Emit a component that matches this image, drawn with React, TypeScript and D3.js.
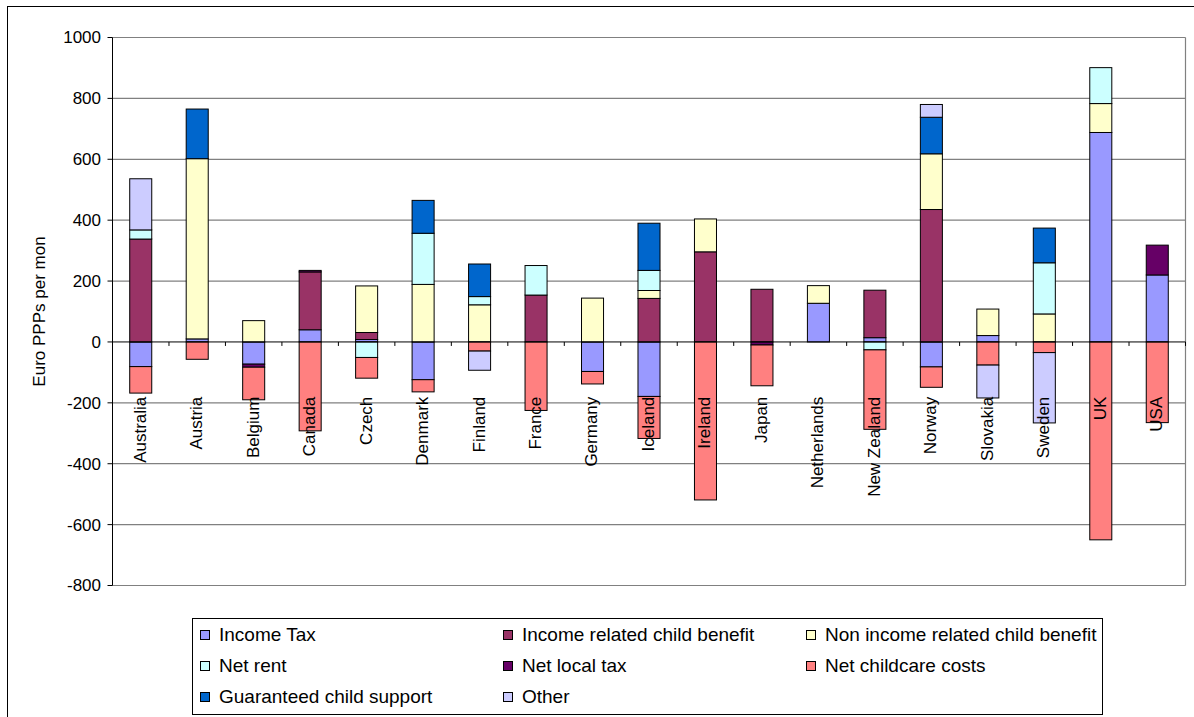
import React from 'react';
import * as d3 from 'd3';

const countries = ["Australia","Austria","Belgium","Canada","Czech","Denmark","Finland","France","Germany","Iceland","Ireland","Japan","Netherlands","New Zealand","Norway","Slovakia","Sweden","UK","USA"];
const seriesNames = ["Income Tax","Income related child benefit","Non income related child benefit","Net rent","Net local tax","Net childcare costs","Guaranteed child support","Other"];
const incomeTax = [-81,10,-73,40,8,-124,0,0,-97,-179,0,0,127,14,-82,21,0,688,220];
const incomeRelatedChildBenefit = [338,0,0,190,23,0,0,154,0,143,296,173,0,156,435,0,0,0,0];
const nonIncomeRelatedChildBenefit = [0,592,70,0,153,189,122,0,144,26,108,0,58,0,183,87,92,95,0];
const netRent = [30,0,0,0,-51,168,27,97,0,66,0,0,0,-26,0,0,168,118,0];
const netLocalTax = [0,0,-10,5,0,0,0,0,0,0,0,-10,0,0,0,0,0,0,98];
const netChildcareCosts = [-87,-57,-107,-292,-68,-40,-30,-225,-41,-138,-519,-134,0,-261,-67,-76,-35,-650,-265];
const guaranteedChildSupport = [0,163,0,0,0,108,107,0,0,155,0,0,0,0,120,0,114,0,0];
const other = [168,0,0,0,0,0,-63,0,0,0,0,0,0,0,42,-108,-231,0,0];
const yTicks = [-800,-600,-400,-200,0,200,400,600,800,1000];

const seriesValues = [incomeTax, incomeRelatedChildBenefit, nonIncomeRelatedChildBenefit, netRent, netLocalTax, netChildcareCosts, guaranteedChildSupport, other];
const seriesColors = ["#9999FF","#993366","#FFFFCC","#CCFFFF","#660066","#FF8080","#0066CC","#CCCCFF"];

const FONT = "'Liberation Sans', Arial, sans-serif";

export default function App() {
  const W = 1194, H = 717;
  const plotL = 112.5, plotR = 1185.5, plotT = 37.5, plotB = 585.5;
  const x = d3.scaleBand<string>().domain(countries).range([plotL, plotR]).padding(0);
  const y = d3.scaleLinear().domain([-800, 1000]).range([plotB, plotT]);
  const barW = x.bandwidth() * 0.39;

  const rows = countries.map((c, i) => {
    const r: any = { country: c };
    seriesNames.forEach((s, k) => { r[s] = seriesValues[k][i]; });
    return r;
  });
  const stacked = d3.stack<any>().keys(seriesNames).offset(d3.stackOffsetDiverging)(rows);
  const y0 = y(0);

  const legendCols = [200, 503, 806];
  const legendRows = [634, 665, 696];

  return (
    <svg width={W} height={H} style={{ position: 'absolute', left: 0, top: 0, background: '#fff' }} fontFamily={FONT}>
      <rect x={0} y={0} width={W} height={H} fill="#fff" />
      <rect x={7.5} y={6.5} width={1300} height={900} fill="none" stroke="#000" strokeWidth={1} />
      {/* gridlines */}
      {yTicks.filter(t => t !== 0).map(t => (
        <line key={t} x1={plotL} x2={plotR} y1={y(t)} y2={y(t)} stroke="#808080" strokeWidth={1.2} />
      ))}
      <line x1={plotR} x2={plotR} y1={plotT} y2={plotB} stroke="#808080" strokeWidth={1.2} />
      {/* bars */}
      {stacked.map((layer, k) => (
        <g key={layer.key}>
          {layer.map((d, i) => {
            if (d[1] === d[0]) return null;
            const top = y(Math.max(d[0], d[1]));
            const bot = y(Math.min(d[0], d[1]));
            return (
              <rect key={i} x={(x(countries[i]) as number) + (x.bandwidth() - barW) / 2} y={top}
                width={barW} height={bot - top} fill={seriesColors[k]} stroke="#000" strokeWidth={1} />
            );
          })}
        </g>
      ))}
      {/* axes */}
      <line x1={plotL} x2={plotL} y1={plotT} y2={plotB} stroke="#000" strokeWidth={1} />
      <line x1={plotL} x2={plotR} y1={y0} y2={y0} stroke="#000" strokeWidth={1} />
      {yTicks.map(t => (
        <g key={t}>
          <line x1={plotL - 5} x2={plotL} y1={y(t)} y2={y(t)} stroke="#000" />
          <text x={101} y={y(t)} dy="0.35em" textAnchor="end" fontSize={17} fill="#000">{t}</text>
        </g>
      ))}
      {countries.map((c, i) => (
        <line key={c} x1={(x(c) as number) + x.bandwidth()} x2={(x(c) as number) + x.bandwidth()} y1={y0} y2={y0 + 4} stroke="#000" />
      ))}
      {countries.map(c => (
        <text key={c} transform={`translate(${(x(c) as number) + x.bandwidth() / 2 - 1},${396.7}) rotate(-90)`}
          dy="0.35em" textAnchor="end" fontSize={17} fill="#000">{c}</text>
      ))}
      <text transform={`translate(39,${(plotT + plotB) / 2}) rotate(-90)`} dy="0.35em" textAnchor="middle" fontSize={17} fill="#000">Euro PPPs per mon</text>
      {/* legend */}
      <rect x={192.5} y={618.5} width={910} height={96} fill="#fff" stroke="#000" strokeWidth={1} />
      {seriesNames.map((s, k) => {
        const col = k % 3, row = Math.floor(k / 3);
        const lx = legendCols[col], ly = legendRows[row];
        return (
          <g key={s}>
            <rect x={lx + 0.5} y={ly - 3.5} width={9} height={9} fill={seriesColors[k]} stroke="#000" strokeWidth={1} />
            <text x={lx + 19} y={ly + 6.5} fontSize={19} fill="#000">{s}</text>
          </g>
        );
      })}
    </svg>
  );
}
